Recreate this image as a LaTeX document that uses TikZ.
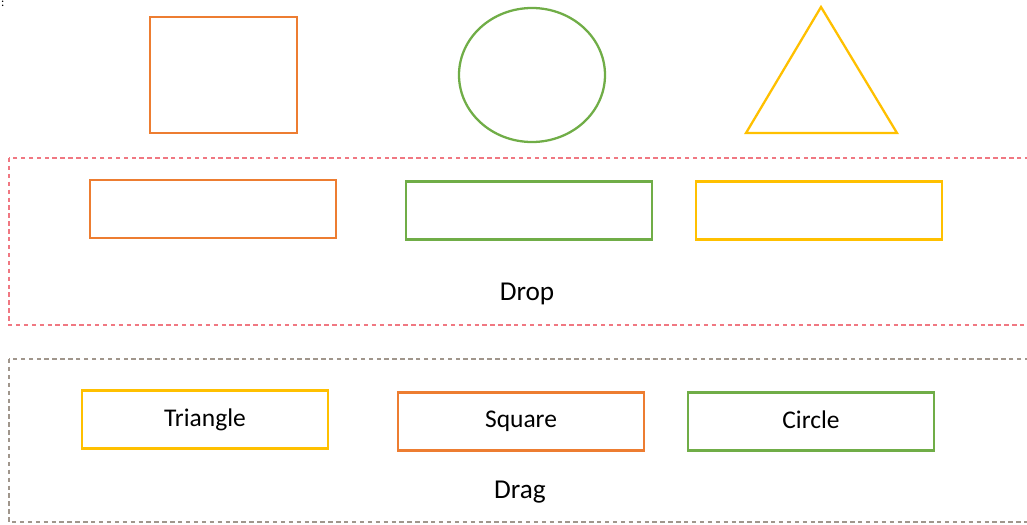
\documentclass[tikz,border=0pt]{standalone}
\usepackage{fontspec}
\setmainfont{Carlito}
\usetikzlibrary{shapes.geometric}
\definecolor{sqorange}{RGB}{237,125,49}
\definecolor{cigreen}{RGB}{112,173,71}
\definecolor{triyellow}{RGB}{255,192,0}
\definecolor{dropred}{RGB}{240,120,130}
\definecolor{draggray}{RGB}{160,150,140}

\begin{document}
\begin{tikzpicture}[x=0.02cm,y=-0.02cm,line width=1.3pt,
  slot/.style={draw,minimum width=246*0.02cm,minimum height=58*0.02cm,inner sep=0pt,text depth=0.5ex,font=\fontsize{14.5}{17}\selectfont},
  zone/.style={line width=0.9pt,dash pattern=on 2.5pt off 2pt}]
\useasboundingbox (0,0) rectangle (1027,524);
\clip (0,0) rectangle (1027,524);
\node[anchor=north west,inner sep=0pt,font=\scriptsize] (colon) at (0,0) {:};
% shapes
\node[draw=sqorange,minimum width=147*0.02cm,minimum height=116*0.02cm,inner sep=0pt] (sq) at (223.5,75) {};
\node[draw=cigreen,ellipse,minimum width=146*0.02cm,minimum height=134*0.02cm,inner sep=0pt] (ci) at (532,75) {};
\coordinate (t1) at (821,7);
\coordinate (t2) at (897,133);
\coordinate (t3) at (746,133);
\draw[triyellow,line join=miter] (t1) -- (t2) -- (t3) -- cycle;

% drop zone
\draw[dropred,zone] (9,158) rectangle (1040,325);
\node[slot,draw=sqorange] (d1) at (213,209) {};
\node[slot,draw=cigreen] (d2) at (529,210.5) {};
\node[slot,draw=triyellow] (d3) at (819,210.5) {};
\node[font=\fontsize{15.5}{18}\selectfont] (drop) at (527,294) {Drop};

% drag zone
\draw[draggray,zone] (9,359) rectangle (1040,522);
\node[slot,draw=triyellow] (g1) at (205,419.5) {Triangle};
\node[slot,draw=sqorange] (g2) at (521,421.5) {Square};
\node[slot,draw=cigreen] (g3) at (811,421.5) {Circle};
\node[font=\fontsize{15.5}{18}\selectfont] (drag) at (520,492) {Drag};
\end{tikzpicture}
\end{document}
